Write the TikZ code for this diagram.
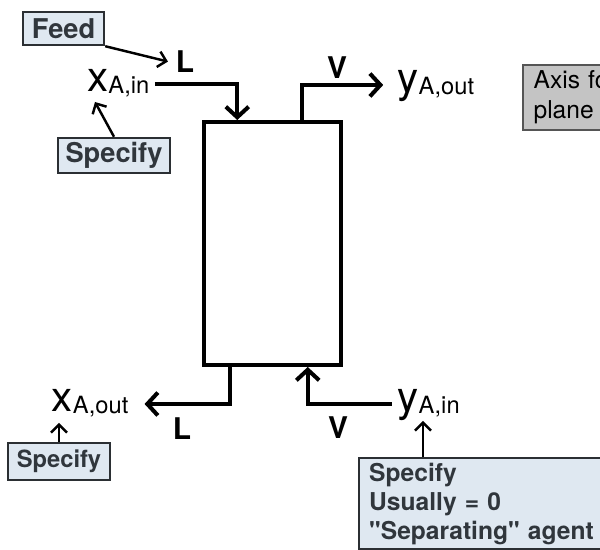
\documentclass[tikz,border=0pt]{standalone}
\usepackage{fontspec}
\setmainfont{TeX Gyre Heros}
\usepackage{xcolor}
\usetikzlibrary{arrows.meta, calc, positioning}
\definecolor{specfill}{HTML}{DFE8F1}
\definecolor{specline}{HTML}{2B2F33}
\definecolor{spectext}{HTML}{30363C}
\definecolor{axisfill}{HTML}{C4C4C4}
\definecolor{axisline}{HTML}{555555}
\tikzset{
  >={Straight Barb[length=6pt,width=13pt]},
  column/.style={draw,line width=2.3pt,inner sep=0pt,
    minimum width=2.74cm,minimum height=4.86cm},
  flow/.style={draw,line width=2.3pt},
  flowlbl/.style={inner xsep=3pt,inner ysep=0pt,text height=12pt,text depth=4pt},
  streamlbl/.style={font=\bfseries\fontsize{17}{17}\selectfont},
  specbox/.style={draw=specline,fill=specfill,text=spectext,line width=1.4pt,
    font=\bfseries\fontsize{15.5}{15.5}\selectfont,inner sep=0pt},
  notebox/.style={specbox,font=\bfseries\fontsize{14}{16.5}\selectfont,
    align=left,text width=5.2cm,inner xsep=0.2cm,minimum height=1.82cm},
  specarrow/.style={draw,line width=1.4pt,-{Straight Barb[length=4.5pt,width=9pt]}},
  axisbox/.style={draw=axisline,fill=axisfill,line width=1.2pt,align=left,
    font=\fontsize{14}{17}\selectfont,text width=2.6cm,inner xsep=6pt,
    minimum height=1.16cm}
}
\newcommand{\flowvar}[2]{{\fontsize{24}{24}\selectfont #1}\raisebox{-1.5pt}{\fontsize{13.5}{13.5}\selectfont #2}}

\begin{document}
\begin{tikzpicture}[x=0.02cm,y=-0.02cm]
  \useasboundingbox (0,0) rectangle (600,550);
  \clip (0,0) rectangle (600,550);

  % Column
  \node[column] (col) at (272.5,243.5) {};
  \coordinate (inL)  at ($(col.north west)!0.25!(col.north east)$);
  \coordinate (outV) at ($(col.north west)!0.708!(col.north east)$);
  \coordinate (outL) at ($(col.south west)!0.197!(col.south east)$);
  \coordinate (inV)  at ($(col.south west)!0.75!(col.south east)$);

  % Streams
  \node[flowlbl,anchor=east] (xin) at (155,84) {\flowvar{x}{A,in}};
  \node[flowlbl,anchor=west] (yout) at (392,85) {\flowvar{y}{A,out}};
  \node[flowlbl,anchor=east] (xout) at (134,404) {\flowvar{x}{A,out}};
  \node[flowlbl,anchor=west] (yin) at (392,404) {\flowvar{y}{A,in}};

  \node[streamlbl] (lin) at (185,62) {L};
  \node[streamlbl] (vout) at (337,68) {V};
  \node[streamlbl] (lout) at (182,429) {L};
  \node[streamlbl] (vin) at (338,428) {V};

  \draw[flow,->] (xin.east) -| (inL);
  \draw[flow,->,shorten >=5pt] (outV) |- (yout.west);
  \draw[flow,->,shorten >=6pt] (outL) |- (xout.east);
  \draw[flow,->] (yin.west) -| (inV);

  % Feed and specifications
  \node[specbox,minimum width=1.62cm,minimum height=0.66cm] (feed) at (63.5,28.5) {Feed};
  \draw[specarrow,shorten >=1pt] (feed.south east) -- (lin.west);

  \node[specbox,minimum width=2.24cm,minimum height=0.7cm] (specin) at (114,155.5) {Specify};
  \coordinate (xintip) at (95,102);
  \draw[specarrow] (specin.north) -- (xintip);

  \node[specbox,font=\bfseries\fontsize{13.5}{13.5}\selectfont,
    minimum width=2.04cm,minimum height=0.74cm] (specout) at (59,461.5) {Specify};
  \coordinate (xouttip) at (59,423);
  \draw[specarrow] (specout.north) -- (xouttip);

  \node[notebox,anchor=north west] (specgas) at (358,457)
    {Specify\\Usually = 0\\\textquotedbl Separating\textquotedbl{} agent};
  \coordinate (yintip) at (423,421);
  \draw[specarrow] (specgas.north -| yintip) -- (yintip);

  % Axis note
  \node[axisbox,anchor=north west] (axis) at (522,64) {Axis fo\\plane};
\end{tikzpicture}
\end{document}
